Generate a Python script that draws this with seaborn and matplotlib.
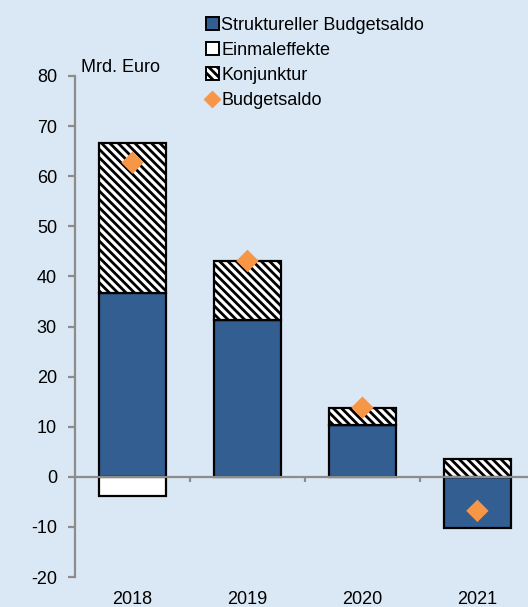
import numpy as np
import pandas as pd
import matplotlib
matplotlib.use("Agg")
import matplotlib.pyplot as plt
import seaborn as sns
from matplotlib.patches import Patch
from matplotlib.lines import Line2D

# Daten (Mrd. Euro)
jahre = ["2018", "2019", "2020", "2021"]
strukturell = [36.7, 31.2, 10.4, -10.2]
einmaleffekte = [-3.9, 0.0, 0.0, 0.0]
konjunktur = [29.9, 11.9, 3.4, 3.6]
budgetsaldo = [62.7, 43.1, 13.8, -6.8]

bg = "#DAE8F5"
blau = "#335E91"
orange = "#F79646"
grau = "#8C8C8C"

sns.set_style("white")
plt.rcParams["font.family"] = ["Liberation Sans", "DejaVu Sans"]
plt.rcParams["axes.unicode_minus"] = False
plt.rcParams["hatch.linewidth"] = 2.0
plt.rcParams["hatch.color"] = "black"
plt.rcParams["text.color"] = "black"
plt.rcParams["xtick.labelcolor"] = "black"
plt.rcParams["ytick.labelcolor"] = "black"

fig = plt.figure(figsize=(5.28, 6.07), dpi=100, facecolor=bg)
ax = fig.add_axes([75 / 528, 30 / 607, 1 - 75 / 528, 501 / 607])
ax.set_facecolor(bg)

df = pd.DataFrame({"jahr": jahre, "strukturell": strukturell,
                   "einmal": einmaleffekte, "konjunktur": konjunktur,
                   "saldo": budgetsaldo})

# Stapel nach Vorzeichen
pos = np.zeros(len(df))
neg = np.zeros(len(df))
stacks = []
for col in ["strukturell", "einmal", "konjunktur"]:
    v = df[col].to_numpy()
    b = np.where(v >= 0, pos, neg)
    stacks.append((col, v, b))
    pos = pos + np.where(v >= 0, v, 0)
    neg = neg + np.where(v < 0, v, 0)

schraffur = "\\\\\\\\"
stil = {
    "strukturell": dict(color=blau),
    "einmal": dict(color="white"),
    "konjunktur": dict(color="white", hatch=schraffur),
}
for col, v, b in stacks:
    d = pd.DataFrame({"jahr": jahre, "wert": v})
    sns.barplot(data=d, x="jahr", y="wert", bottom=b, width=0.58,
                saturation=1, edgecolor="black", linewidth=1.6, ax=ax,
                zorder=2, **stil[col])

sns.scatterplot(data=df, x="jahr", y="saldo", marker="D", s=130,
                color=orange, edgecolor="none", ax=ax, zorder=4)

ax.axhline(0, color=grau, lw=1.6, zorder=3)
ax.vlines([0.5, 1.5, 2.5], -1.1, 0, color=grau, lw=1.6, zorder=3)

ax.set_xlim(-0.5, 3.44)
ax.set_ylim(-20, 80)
ax.set_yticks(range(-20, 81, 10))
ax.set_xlabel("")
ax.set_ylabel("")
for s in ["top", "right", "bottom"]:
    ax.spines[s].set_visible(False)
ax.spines["left"].set_color(grau)
ax.spines["left"].set_linewidth(1.6)
ax.tick_params(axis="y", length=5, width=1.6, color=grau, pad=8,
               labelsize=13, left=True, labelcolor="black")
ax.tick_params(axis="x", length=0, pad=10, labelsize=13, labelcolor="black")

ax.annotate("Mrd. Euro", xy=(0.0, 1.0), xycoords="axes fraction",
            xytext=(4, 6), textcoords="offset points", fontsize=13,
            va="center", ha="left", color="black")

handles = [
    Patch(facecolor=blau, edgecolor="black", linewidth=1.4),
    Patch(facecolor="white", edgecolor="black", linewidth=1.4),
    Patch(facecolor="white", edgecolor="black", linewidth=1.4, hatch=schraffur),
    Line2D([], [], marker="D", color=orange, linestyle="none", markersize=8),
]
labels = ["Struktureller Budgetsaldo", "Einmaleffekte", "Konjunktur", "Budgetsaldo"]
fig.legend(handles, labels, loc="upper left", bbox_to_anchor=(197 / 528, 1 - 8 / 607),
           frameon=False, fontsize=13, handlelength=0.7, handleheight=0.7,
           handletextpad=0.15, labelspacing=0.44, borderpad=0,
           labelcolor="black")

fig.savefig("out.png", dpi=100, facecolor=bg)
